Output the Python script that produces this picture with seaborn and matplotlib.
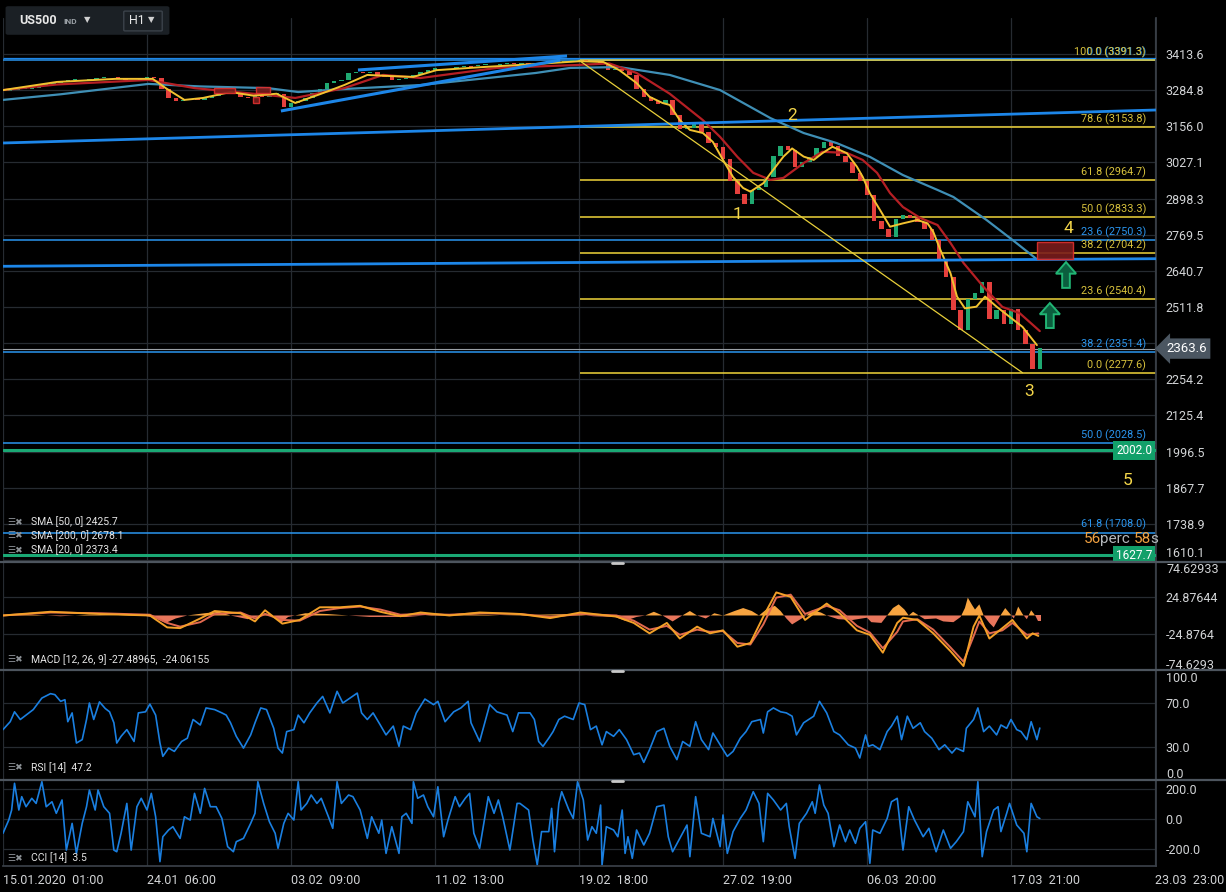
import numpy as np
import pandas as pd
import seaborn as sns
import matplotlib.pyplot as plt
import matplotlib.transforms as mtransforms
from matplotlib.patches import Rectangle, Polygon, FancyBboxPatch
from matplotlib.lines import Line2D

# ---------------- data (x = bar units, 100 per date gridline) ----------------
time_ticks = [0, 100, 200, 300, 400, 500, 600, 700, 800]
time_labels = ["15.01.2020  01:00", "24.01  06:00", "03.02  09:00", "11.02  13:00",
               "19.02  18:00", "27.02  19:00", "06.03  20:00", "17.03  21:00", "23.03  23:00"]
price_levels = [3413.6, 3284.8, 3156.0, 3027.1, 2898.3, 2769.5, 2640.7, 2511.8,
                2383.0, 2254.2, 2125.4, 1996.5, 1867.7, 1738.9, 1610.1]
hidden_level = 2383.0  # covered by the last-price tag

bar_step = 5
close = [3283, 3286, 3288, 3290, 3294, 3298, 3305, 3312, 3316, 3320,
         3322, 3320, 3325, 3328, 3330, 3332, 3326, 3322, 3320, 3325,
         3330, 3328, 3290, 3255, 3245, 3250, 3252, 3248, 3255, 3265,
         3275, 3280, 3276, 3260, 3258, 3268, 3262, 3270, 3272, 3225,
         3240, 3245, 3258, 3275, 3290, 3310, 3318, 3322, 3345, 3350,
         3346, 3348, 3340, 3330, 3322, 3325, 3328, 3340, 3350, 3356,
         3362, 3365, 3364, 3368, 3372, 3370, 3374, 3376, 3375, 3378,
         3381, 3379, 3382, 3380, 3383, 3381, 3384, 3386, 3388, 3390,
         3391, 3388, 3384, 3378, 3356, 3360, 3352, 3340, 3290, 3262,
         3245, 3236, 3250, 3195, 3145, 3150, 3172, 3136, 3095, 3082,
         3040, 2960, 2915, 2880, 2930, 2940, 2975, 3050, 3085, 3070,
         3010, 3030, 3045, 3080, 3100, 3085, 3050, 3030, 2990, 2960,
         2910, 2820, 2790, 2760, 2825, 2840, 2830, 2815, 2790, 2750,
         2680, 2620, 2500, 2430, 2540, 2560, 2600, 2470, 2500, 2450,
         2505, 2430, 2380, 2290, 2364]

sma20_x = [0, 37.5, 78, 104, 113, 126, 139, 158, 174, 190, 203, 221, 237, 253, 269, 285, 301, 333,
           370, 401, 417, 428, 440, 449, 458, 463, 470, 477, 486, 493, 500, 507, 514, 519, 528,
           533, 542, 548, 556, 563, 569, 576, 586, 593, 597, 602, 609, 616, 625, 635, 642, 646,
           651, 658, 662.5, 668, 676, 682, 690, 699, 708, 718]
sma20_y = [3285, 3314, 3325, 3325, 3292, 3250, 3257, 3278, 3265, 3272, 3239, 3272, 3303, 3339,
           3335, 3332, 3356, 3367, 3378, 3388, 3385, 3356, 3310, 3261, 3239, 3232, 3178, 3143,
           3132, 3100, 3036, 2975, 2936, 2923, 2953, 2988, 3048, 3077, 3048, 3036, 3060, 3083,
           3060, 3012, 2976, 2917, 2858, 2798, 2810, 2822, 2810, 2780, 2715, 2632, 2549, 2507,
           2513, 2549, 2513, 2477, 2441, 2376]
sma50_x = [0, 37.5, 101, 133, 174, 203, 237, 264, 290, 343, 397, 421, 440, 463, 486, 498, 510,
           521, 533, 542, 556, 569, 586, 597, 607, 616, 625, 637, 649, 658, 667, 681, 694, 706, 720]
sma50_y = [3285, 3305, 3321, 3292, 3272, 3257, 3292, 3339, 3328, 3364, 3374, 3380, 3346, 3272,
           3178, 3118, 3047, 2990, 2965, 2972, 3025, 3065, 3061, 3036, 2990, 2918, 2868, 2829,
           2804, 2740, 2669, 2583, 2512, 2490, 2426]
sma200_x = [0, 40, 101, 137, 184, 205, 234, 290, 331, 370, 394, 428, 463, 498, 519, 533, 556,
            579, 602, 625, 649, 660, 683, 701, 718]
sma200_y = [3250, 3270, 3307, 3298, 3292, 3278, 3288, 3303, 3325, 3346, 3364, 3367, 3339, 3285,
            3225, 3185, 3132, 3096, 3047, 2982, 2929, 2904, 2822, 2751, 2682]

fib_y_levels = [100.0, 78.6, 61.8, 50.0, 38.2, 23.6, 0.0]
fib_y_prices = [3391.3, 3153.8, 2964.7, 2833.3, 2704.2, 2540.4, 2277.6]
fib_b_levels = [0.0, 23.6, 38.2, 50.0, 61.8]
fib_b_prices = [3391.3, 2750.3, 2351.4, 2028.5, 1708.0]

# blue trend lines: (x0, y0) -> (x1, y1)
trend_x0 = [0, 0, 193, 246.5, 0]
trend_y0 = [3096.4, 2657.0, 3210.5, 3356.6, 3398.0]
trend_x1 = [800.7, 800.7, 387, 391.7, 800.7]
trend_y1 = [3214.0, 2684.0, 3392.2, 3406.5, 3398.0]
trend_w = [2.0, 2.0, 2.2, 2.2, 0.9]
wedge_x = [400, 708]
wedge_y = [3391.3, 2277.6]

wave_labels = ["1", "2", "3", "4", "5"]
wave_x = [510, 548, 712.5, 740, 781]
wave_y = [2840, 3196, 2209, 2793, 1895]

green_levels = [2002.0, 1627.7]
last_price = 2363.6

box_x0 = [146.5, 175.7, 173.6, 718]
box_x1 = [161, 185.4, 177.8, 743]
box_lo = [3275, 3275, 3239, 2683]
box_hi = [3292, 3296, 3260, 2744]

arrow_cx = [738.2, 727]
arrow_top = [2672, 2526]
arrow_bot = [2580, 2437]

timer_parts = ["56", "perc", "58", "s"]
timer_x = [750.7, 761.8, 785.4, 796.5]
timer_colors = ["#f0a040", "#b4b8bc", "#f0a040", "#b4b8bc"]
timer_price = 1684

macd_x = [0, 33, 67, 102, 114, 123, 137, 147, 165, 175, 182, 194, 206, 220, 234, 248, 262, 276,
          290, 310, 331, 359, 380, 401, 426, 438, 449, 461, 470, 482, 491, 500, 510, 519, 528,
          537, 547, 557, 572, 581, 593, 602, 611, 621, 625, 635, 646, 658, 667, 674, 678, 685,
          694, 701, 711, 715, 719]
macd_y = [0, 5, 2, 0, -16, -17, -4, 6, 3, -8, 7, -11, -6, 11, 11, 13, 5, -1, 4, 0, 4, 2, -3.5, 4,
          -1.5, -10, -24, -10, -31, -15, -24, -20, -42, -37, -1.5, 31, 25, -6, 16, 3, -20, -26,
          -50, -10, -3, -6, -24, -48, -68, -15, 0, -31, -17, -6, -31, -24, -27.5]
signal_y = [0, 4, 3, 1, -10, -15, -9, 2, 4, -4, 2, -6, -7, 6, 10, 12, 8, 1, 2, 1, 3, 2, -2, 2, 0,
            -7, -19, -14, -26, -19, -22, -21, -37, -39, -12, 24, 28, 2, 13, 7, -14, -23, -44, -22,
            -8, -5, -19, -43, -62, -28, -8, -24, -20, -10, -26, -25, -24.1]
hist_x = [0, 20, 40, 60, 80, 95, 105, 113, 120, 128, 140, 150, 158, 170, 176, 182, 188, 193, 198,
          210, 225, 240, 255, 280, 300, 320, 345, 370, 395, 410, 425, 432, 440, 446, 452, 458, 465,
          470, 477, 482, 488, 494, 500, 508, 514, 520, 525, 530, 536, 540, 544, 548, 553, 558, 562,
          568, 572, 580, 590, 600, 603, 610, 614, 618, 622, 626, 629, 632, 636, 640, 648, 653, 660,
          665, 668, 670, 673, 675, 678, 681, 685, 688, 692, 696, 699, 702, 705, 708, 711, 714, 716,
          719, 721]
hist_y = [0, 1, -1, 1, 0, 1, -3, -10, -4, 0, 3, 5, 0, -5, -2, 3, 0, -10, -2, 3, 2, 0, -2, -2, 1, 2,
          0, 1, 2, -1, -2, -7, -2, 0, 5, 0, -8, -2, 6, 0, -4, 3, 0, 6, 10, 6, 0, 8, 13, 6, -4, -12,
          -6, 0, 7, 4, 0, -5, -6, -3, -9, -10, 0, 10, 15, 8, 0, 5, 0, -5, -4, -8, -9, -2, 10, 24,
          14, 8, 15, 0, -10, -16, -2, 10, 3, -4, 12, 2, -5, 7, 2, -8, -8]

rsi_x = [0, 5, 8, 12, 15, 21, 27, 33, 36, 40, 43, 45, 48, 51, 55, 58, 60, 63, 67, 71, 74, 77, 79,
         82, 86, 91, 94, 99, 102, 106, 109, 111, 115, 119, 124, 128, 132, 137, 141, 147, 152, 155,
         158, 162, 167, 172, 175, 179, 183, 188, 191, 194, 197, 202, 205, 209, 213, 218, 222, 227,
         232, 236, 241, 246, 249, 253, 257, 262, 266, 271, 275, 278, 283, 287, 293, 299, 302, 307,
         313, 318, 323, 325, 331, 338, 343, 350, 354, 358,
         359, 366, 369, 372, 375, 379, 382, 386, 390, 396, 400, 404, 408, 412, 416, 419, 424, 428,
         433, 438, 442, 445, 449, 454, 459, 463, 468, 472, 477, 481, 485, 490, 493, 498, 503, 507,
         512, 516, 520, 526, 528, 531, 535, 540, 544, 548, 551, 556, 563, 567, 572, 577, 581, 587,
         592, 595, 599, 601, 604, 609, 614, 617, 621, 624, 628, 632, 637, 640, 645, 650, 654, 659,
         662, 667, 669, 674, 677, 681, 685, 690, 693, 697, 700, 704, 707, 711, 714, 718, 720]
rsi_y = [45.8, 53, 62, 55, 58, 64, 74.5, 78.5, 77.6, 71.5, 73, 53, 61, 33.6, 36.7, 55, 70, 55, 71,
         65, 62, 52, 33.6, 39.7, 45.8, 35, 61, 62, 69, 59, 33.6, 21.5, 29, 26, 35, 38, 55, 50, 65.5,
         64, 61, 59, 52, 39.7, 29, 41, 52, 65.5, 64, 47, 29, 24.5, 44, 45.8, 59, 52, 61, 70, 76,
         61, 80.6, 70, 74.5, 79, 61, 55, 61, 50, 41, 49, 30.6, 49, 45.8, 61, 73.6, 68.5, 71.5, 53,
         62, 65.5, 71.5, 52, 35, 68.5, 62, 59, 44, 61,
         61, 61, 55, 35, 30.6, 38, 44, 55, 58, 55, 70, 68.5, 45.8, 49, 32, 44, 39.7, 45.8, 36.7,
         23, 24.5, 16, 27.6, 44, 47, 30.6, 18.5, 35, 30.6, 53, 36.7, 27.6, 42.7, 32, 21.5, 26, 38,
         44, 53, 55, 42.7, 62, 65.5, 62, 61, 58, 41, 52, 58, 71.5, 61, 44, 41, 32, 29, 20, 41,
         30.6, 32, 27.6, 44, 49, 58, 36.7, 58, 47, 52, 44, 38, 27.6, 32, 24.5, 29, 26, 47, 55,
         65.5, 44, 49, 41, 50, 47, 55, 45.8, 44, 36.7, 53, 36.7, 47.2]

cci_x = [0, 4, 6, 8, 11, 13, 16, 20, 23, 27, 30, 34, 37, 41, 44, 48, 51, 55, 58, 60, 64, 66, 70,
         74, 77, 79, 82, 86, 89, 93, 96, 100, 103, 106, 109, 111, 115, 118, 123, 126, 130, 133,
         137, 140, 144, 148, 152, 156, 160, 162, 167, 172, 175, 177, 181, 185, 189, 191, 195, 198,
         202, 205, 207, 211, 214, 218, 221, 226, 229, 232, 235, 240, 243, 248, 253, 256, 261, 263,
         266, 270, 275, 277, 280, 284, 285, 288, 292, 295, 299, 302, 306, 309, 314, 317, 321, 324,
         327, 331, 337, 341, 344, 347, 352, 357,
         359, 365, 368, 371, 374, 379, 381, 383, 386, 388, 393, 396, 399, 403, 406, 409, 412, 415,
         416, 419, 424, 427, 430, 432, 434, 437, 440, 445, 449, 454, 459, 462, 465, 470, 475, 477,
         481, 485, 491, 493, 498, 500, 503, 507, 512, 516, 521, 525, 528, 531, 535, 540, 544, 546,
         550, 553, 558, 562, 564, 567, 570, 573, 577, 581, 585, 588, 592, 595, 599, 602, 604, 609,
         614, 617, 621, 625, 629, 633, 639, 643, 648, 653, 658, 662, 667, 670, 675, 677, 680, 683,
         688, 691, 693, 697, 699, 704, 709, 711, 714, 718, 720]
cci_y = [-95, -7, 60, 238, 60, 149, 82, 138, 104, 249, 82, 115, 38, 127, -207, -29, -229, -29, 82,
         193, 60, 193, 82, 38, -207, -218, -95, 104, -207, 82, 138, 60, 171, 15, -284, -118, -73,
         -51, -129, 15, -7, 171, 38, 204, 82, 82, 4, -184, -218, -151, -129, -29, 38, 249, 104,
         -18, -95, -195, -29, 38, -7, 249, 60, 104, 160, 104, 138, 15, -62, 249, 104, 160, 149,
         60, -129, 15, -95, -7, -229, -51, -229, 15, 38, -29, 249, 138, 160, 82, 15, 215, -118, -7,
         149, 82, 138, 171, -95, -195, 149, 38, 127, 15, -207, 104,
         104, 60, -140, -306, -84, -84, 71, -218, 104, 182, 60, 4, 249, 127, -140, -51, -95, 93,
         -306, -51, -73, -118, 60, -229, -118, -262, -73, -173, -95, 82, 93, -118, -218, -129, -40,
         -251, 149, -95, -118, 4, -184, 27, -229, -84, 4, 60, 182, 104, -151, 171, 127, 60, 104,
         -51, -262, -29, 38, 115, 38, 227, 93, 38, -184, -40, -151, -73, -162, -62, -18, -295, -73,
         -95, 4, 115, 138, -207, 82, -7, -118, -62, -218, -73, -195, -151, -84, 115, 15, 249, -251,
         -84, 60, 82, -84, 38, 104, -40, -95, -218, 104, 15, 3.5]

# ---------------- style ----------------
bg = "black"
grid_c = "#262b31"
sep_c = "#4d555e"
label_c = "#d2d4d6"
sns.set_theme(style="dark", rc={"axes.facecolor": bg, "figure.facecolor": bg,
                                 "axes.grid": True, "grid.color": grid_c,
                                 "text.color": label_c, "xtick.color": label_c,
                                 "ytick.color": label_c})
plt.rcParams["font.family"] = ["Roboto", "DejaVu Sans"]

W, H = 1226, 892
fig = plt.figure(figsize=(W / 100, H / 100), dpi=100)


def px_axes(left, top, right, bottom):
    return fig.add_axes([left / W, 1 - bottom / H, (right - left) / W, (bottom - top) / H])


ax = px_axes(3, 18, 1156, 562)
ax_macd = px_axes(3, 562, 1156, 670)
ax_rsi = px_axes(3, 670, 1156, 780)
ax_cci = px_axes(3, 780, 1156, 866)

for a in [ax, ax_macd, ax_rsi, ax_cci]:
    a.set_facecolor(bg)
    a.set_xlim(0, 800.7)
    a.set_xticks(time_ticks)
    a.grid(True, color=grid_c, linewidth=0.9)
    a.set_axisbelow(True)
    for s in ["top", "left", "bottom"]:
        a.spines[s].set_visible(False)
    a.spines["right"].set_color("#3a4048")
    a.yaxis.tick_right()
    a.tick_params(axis="y", length=0, pad=7, labelsize=9, labelcolor=label_c)
    a.tick_params(axis="x", length=0, labelbottom=False)
    a.set_xlabel("")
    a.set_ylabel("")

blend = mtransforms.blended_transform_factory(ax.transAxes, ax.transData)

# ---------------- main price panel ----------------
ax.set_ylim(1603.0, 3541.9)
ax.set_yticks(price_levels, ["" if v == hidden_level else f"{v:.1f}" for v in price_levels])
for t in ax.get_yticklabels():
    if t.get_text() == "1610.1":
        t.set_va("bottom")

for p in fib_b_prices:
    ax.axhline(p, color="#2a95ee", lw=1.1, zorder=2)
for p in fib_y_prices:
    ax.hlines(p, 400.5, 800.7, color="#f0d43a", lw=1.1, zorder=2)
for lvl, p in zip(fib_b_levels, fib_b_prices):
    ax.annotate(f"{lvl:.1f} ({p:.1f})", xy=(793.7, p), xytext=(0, 1.5), textcoords="offset points",
                ha="right", va="bottom", fontsize=7.8, color="#2a95ee", zorder=6)
for lvl, p in zip(fib_y_levels, fib_y_prices):
    ax.annotate(f"{lvl:.1f} ({p:.1f})", xy=(793.7, p), xytext=(0, 1.5), textcoords="offset points",
                ha="right", va="bottom", fontsize=7.8, color="#d8c23c", zorder=6)

ax.axhline(last_price, color="#9aa0a6", lw=0.8, zorder=2)
for p in green_levels:
    ax.axhline(p, color="#1aa874", lw=2.2, zorder=3)
    ax.text(0.9965, p, f"{p:.1f}", transform=blend, ha="right", va="center", fontsize=8.5,
            color="white", zorder=7, bbox=dict(boxstyle="square,pad=0.25", fc="#12a06a", ec="none"))

# candles
bar_x = np.arange(len(close)) * bar_step
opens = np.array([close[0]] + close[:-1], dtype=float)
closes = np.array(close, dtype=float)
body = closes - opens
body = np.where(np.abs(body) < 3, np.where(body >= 0, 3, -3), body)
cols = np.where(closes >= opens, "#1fa971", "#e5403d")
ax.bar(bar_x, body, bottom=opens, width=3.0, color=cols, linewidth=0, zorder=3)

sns.lineplot(x=sma200_x, y=sma200_y, ax=ax, color="#3f8fb5", lw=1.6, estimator=None, sort=False, zorder=4)
sns.lineplot(x=sma50_x, y=sma50_y, ax=ax, color="#b51f24", lw=1.6, estimator=None, sort=False, zorder=4)
sns.lineplot(x=sma20_x, y=sma20_y, ax=ax, color="#f2c230", lw=1.4, estimator=None, sort=False, zorder=5)

for x0, y0, x1, y1, w in zip(trend_x0, trend_y0, trend_x1, trend_y1, trend_w):
    ax.plot([x0, x1], [y0, y1], color="#1d86e8", lw=w, zorder=5, solid_capstyle="butt")
ax.plot(wedge_x, wedge_y, color="#e8cf3a", lw=0.9, zorder=5)

for x0, x1, lo, hi in zip(box_x0, box_x1, box_lo, box_hi):
    ax.add_patch(Rectangle((x0, lo), x1 - x0, hi - lo, fc="#7a1c1c", ec="#e0302f",
                           lw=1.0, alpha=0.9, zorder=6))

for cx, top, bot in zip(arrow_cx, arrow_top, arrow_bot):
    hw = 7.0
    mid = top - 0.45 * (top - bot)
    pts = [(cx, top), (cx + hw, mid), (cx + 0.38 * hw, mid), (cx + 0.38 * hw, bot),
           (cx - 0.38 * hw, bot), (cx - 0.38 * hw, mid), (cx - hw, mid)]
    ax.add_patch(Polygon(pts, closed=True, fc="#0b5e3e", ec="#21b574", lw=1.4, zorder=6))

for s, x, y in zip(wave_labels, wave_x, wave_y):
    ax.text(x, y, s, ha="center", va="center", fontsize=12.5, color="#f4d64a", zorder=7)

ax.text(1.0087, last_price, f"{last_price:.1f}", transform=blend, ha="left", va="center",
        fontsize=9.5, color="white", zorder=8,
        bbox=dict(boxstyle="larrow,pad=0.28", fc="#4b5661", ec="none"))

for s, x, c in zip(timer_parts, timer_x, timer_colors):
    ax.text(x, timer_price, s, fontsize=11, color=c, va="center", ha="left", zorder=7)

legend_rows = ["SMA [50, 0] 2425.7", "SMA [200, 0] 2678.1", "SMA [20, 0] 2373.4"]
for row, yf in zip(legend_rows, [0.0735, 0.0478, 0.022]):
    ax.text(0.0035, yf, "☰✖", transform=ax.transAxes, fontsize=6.5, color="#8c9196", va="center")
    ax.text(0.0243, yf, row, transform=ax.transAxes, fontsize=7.5, color="#e4e4e4", va="center")

# ---------------- MACD ----------------
ax_macd.set_ylim(-73.3, 71.9)
ax_macd.set_yticks([24.87644, -24.87644], ["24.87644", "-24.8764"])
hx = np.array(hist_x, dtype=float)
hy = np.array(hist_y, dtype=float)
ax_macd.fill_between(hx, 0, hy, where=hy >= 0, interpolate=True, color="#f7a440", lw=0, zorder=2)
ax_macd.fill_between(hx, 0, hy, where=hy <= 0, interpolate=True, color="#e8765c", lw=0, zorder=2)
sns.lineplot(x=macd_x, y=signal_y, ax=ax_macd, color="#e2694f", lw=1.4, estimator=None, sort=False, zorder=3)
sns.lineplot(x=macd_x, y=macd_y, ax=ax_macd, color="#f3a028", lw=1.4, estimator=None, sort=False, zorder=4)
ax_macd.text(1.0087, 0.93, "74.62933", transform=ax_macd.transAxes, fontsize=9, color=label_c, va="center")
ax_macd.text(1.0087, 0.04, "-74.6293", transform=ax_macd.transAxes, fontsize=9, color=label_c, va="center")
ax_macd.text(0.0035, 0.10, "☰✖", transform=ax_macd.transAxes, fontsize=6.5, color="#8c9196", va="center")
ax_macd.text(0.0243, 0.10, "MACD [12, 26, 9] -27.48965,  -24.06155", transform=ax_macd.transAxes,
             fontsize=7.5, color="#e4e4e4", va="center")

# ---------------- RSI ----------------
ax_rsi.set_ylim(0, 100)
ax_rsi.set_yticks([70, 30], ["70.0", "30.0"])
sns.lineplot(x=rsi_x, y=rsi_y, ax=ax_rsi, color="#1a7fe0", lw=1.2, estimator=None, sort=False)
ax_rsi.text(1.0087, 0.92, "100.0", transform=ax_rsi.transAxes, fontsize=9, color=label_c, va="center")
ax_rsi.text(1.0087, 0.05, "0.0", transform=ax_rsi.transAxes, fontsize=9, color=label_c, va="center")
ax_rsi.text(0.0035, 0.11, "☰✖", transform=ax_rsi.transAxes, fontsize=6.5, color="#8c9196", va="center")
ax_rsi.text(0.0243, 0.11, "RSI [14]  47.2", transform=ax_rsi.transAxes, fontsize=7.5,
            color="#e4e4e4", va="center")

# ---------------- CCI ----------------
ax_cci.set_ylim(-313, 260)
ax_cci.set_yticks([200, 0, -200], ["200.0", "0.0", "-200.0"])
sns.lineplot(x=cci_x, y=cci_y, ax=ax_cci, color="#1a7fe0", lw=1.2, estimator=None, sort=False)
ax_cci.text(0.0035, 0.093, "☰✖", transform=ax_cci.transAxes, fontsize=6.5, color="#8c9196", va="center")
ax_cci.text(0.0243, 0.093, "CCI [14]  3.5", transform=ax_cci.transAxes, fontsize=7.5,
            color="#e4e4e4", va="center")
ax_cci.spines["bottom"].set_visible(True)
ax_cci.spines["bottom"].set_color("#3a4048")
ax_cci.set_xticks(time_ticks, time_labels, ha="left")
ax_cci.tick_params(axis="x", length=4, color="#3a4048", pad=2, labelsize=9,
                   labelbottom=True, labelcolor=label_c)

# ---------------- chrome: separators, handles, header ----------------
for yp in [562, 670, 780]:
    fig.add_artist(Line2D([0, 1], [1 - yp / H, 1 - yp / H], transform=fig.transFigure,
                          color=sep_c, lw=1.6))
    fig.add_artist(Line2D([612 / W, 623 / W], [1 - (yp + 1) / H, 1 - (yp + 1) / H],
                          transform=fig.transFigure, color="#c8c8c8", lw=2))

fig.add_artist(FancyBboxPatch((8 / W, 1 - 33 / H), 159 / W, 25 / H, boxstyle="round,pad=0.002",
                              transform=fig.transFigure, fc="#1b2025", ec="none"))
fig.add_artist(FancyBboxPatch((125 / W, 1 - 30 / H), 36 / W, 18 / H, boxstyle="round,pad=0.001",
                              transform=fig.transFigure, fc="#1b2025", ec="#3b424a", lw=1))
fig.text(19 / W, 1 - 21 / H, "US500", fontsize=9, weight="bold", color="#e8e8e8", va="center")
fig.text(63 / W, 1 - 21 / H, "IND", fontsize=6, weight="bold", color="#9aa0a6", va="center")
fig.text(84 / W, 1 - 20 / H, "▼", fontsize=6, color="#d0d0d0", va="center")
fig.text(129 / W, 1 - 21 / H, "H1", fontsize=9, color="#e8e8e8", va="center")
fig.text(148 / W, 1 - 20 / H, "▼", fontsize=6, color="#d0d0d0", va="center")

fig.savefig("out.png", dpi=100, facecolor=bg)
